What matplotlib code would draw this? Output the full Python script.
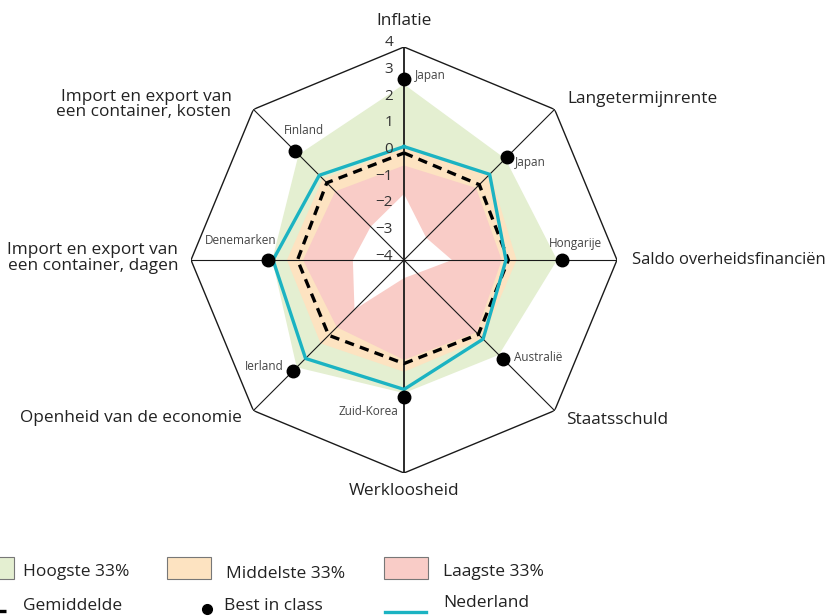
import numpy as np
import matplotlib
matplotlib.use("Agg")
import matplotlib.pyplot as plt
from matplotlib.patches import Rectangle
from matplotlib.lines import Line2D

plt.rcParams["font.family"] = ["Open Sans", "DejaVu Sans"]

# axes, clockwise from the top
categories = [
    "Inflatie",
    "Langetermijnrente",
    "Saldo overheidsfinanciën",
    "Staatsschuld",
    "Werkloosheid",
    "Openheid van de economie",
    "Import en export van\neen container, dagen",
    "Import en export van\neen container, kosten",
]
best_countries = ["Japan", "Japan", "Hongarije", "Australië",
                  "Zuid-Korea", "Ierland", "Denemarken", "Finland"]
best_in_class = [2.79, 1.49, 1.95, 1.24, 1.13, 1.89, 1.10, 1.80]

# outer edges of the bands (score per axis)
hoogste = [2.60, 1.38, 1.75, 1.04, 1.00, 1.70, 0.95, 1.60]
middelste = [0.20, 0.58, 0.23, 0.18, 0.20, 0.43, 0.40, 0.32]
laagste = [-0.45, -0.17, -0.33, -0.15, -0.25, -0.43, -0.21, -0.35]
minimum = [-1.52, -2.82, -2.20, -3.30, -3.32, -1.37, -2.08, -2.23]

gemiddelde = [0.02, 0.00, -0.08, -0.05, -0.11, 0.00, 0.00, 0.10]
nederland = [0.26, 0.55, -0.17, 0.20, 0.86, 1.23, 0.92, 0.50]

ticks = [4, 3, 2, 1, 0, -1, -2, -3, -4]

GREEN = "#e4efd1"
ORANGE = "#fde3c1"
PINK = "#f9ccc7"
CYAN = "#1bb3c2"
W, H = 833, 616


def closed(vals):
    return list(vals) + [vals[0]]


def main():
    fig = plt.figure(figsize=(W / 100, H / 100), dpi=100)
    cx, cy, rad = 404, 260, 213
    ax = fig.add_axes([(cx - rad) / W, (H - cy - rad) / H,
                       2 * rad / W, 2 * rad / H], projection="polar")
    ax.set_theta_zero_location("N")
    ax.set_theta_direction(-1)
    ax.set_ylim(-4, 4)
    ax.grid(False)
    ax.set_xticks([])
    ax.set_yticks([])
    ax.spines["polar"].set_visible(False)
    ax.patch.set_visible(False)

    n = len(categories)
    theta = np.arange(n) * 2 * np.pi / n
    tc = closed(theta)

    # bands
    ax.fill(tc, closed(hoogste), color=GREEN, lw=0, zorder=1)
    ax.fill(tc, closed(middelste), color=ORANGE, lw=0, zorder=2)
    ax.fill(tc, closed(laagste), color=PINK, lw=0, zorder=3)
    ax.fill(tc, closed(minimum), color="white", lw=0, zorder=4)

    # frame and spokes
    ax.plot(tc, [4] * (n + 1), color="#1a1a1a", lw=1.0, zorder=5)
    for i, t in enumerate(theta):
        lw = 1.3 if i in (0, 4) else 0.8
        ax.plot([t, t], [-4, 4], color="#1a1a1a", lw=lw, zorder=5)

    ax.plot(tc, closed(gemiddelde), color="black", lw=2.4,
            dashes=(2.8, 1.9), zorder=6)
    ax.plot(tc, closed(nederland), color=CYAN, lw=2.4, zorder=7)
    ax.plot(theta, best_in_class, "o", color="black", ms=9, zorder=8)

    # radial tick labels on the top spoke
    for v in ticks:
        ax.annotate(str(v).replace("-", "\u2212"), xy=(0, v),
                    xytext=(-11, 4), textcoords="offset pixels",
                    ha="right", va="center", fontsize=11,
                    color="#333333", annotation_clip=False, zorder=9)

    # best in class country labels
    offs = [(11, 4, "left"), (8, -6, "left"), (-14, 16, "left"),
            (11, 1, "left"), (-6, -15, "right"), (-9, 4, "right"),
            (8, 19, "right"), (-11, 20, "left")]
    for t, v, name, (dx, dy, ha) in zip(theta, best_in_class,
                                        best_countries, offs):
        ax.annotate(name, xy=(t, v), xytext=(dx, dy),
                    textcoords="offset pixels", ha=ha, va="center",
                    fontsize=8.5, color="#444444", annotation_clip=False,
                    zorder=9)

    # category labels around the frame
    cat_offs = [(0, 26, "center"), (13, 10, "left"), (15, 0, "left"),
                (11, -9, "left"), (0, -18, "center"), (-12, -7, "right"),
                (-13, 2, "right"), (-22, 5, "right")]
    for t, name, (dx, dy, ha) in zip(theta, categories, cat_offs):
        size = 12.0 if name.startswith("Saldo") else 12.4
        ax.annotate(name, xy=(t, 4), xytext=(dx, dy),
                    textcoords="offset pixels", ha=ha, va="center",
                    fontsize=size, color="#222222", linespacing=0.95,
                    annotation_clip=False)

    # legend, drawn in figure pixels (left side runs off the canvas)
    def fx(x):
        return x / W

    def fy(y):
        return 1 - y / H

    for x0, col in [(-30, GREEN), (167, ORANGE), (384, PINK)]:
        fig.add_artist(Rectangle((fx(x0), fy(579)), 44 / W, 22 / H,
                                 transform=fig.transFigure, facecolor=col,
                                 edgecolor="#777777", lw=0.8))
    leg_txt = [(23, 572, "Hoogste 33%"), (226, 574, "Middelste 33%"),
               (443, 572, "Laagste 33%"), (23, 606, "Gemiddelde"),
               (224, 606, "Best in class"), (443, 603, "Nederland")]
    for x, y, s in leg_txt:
        fig.text(fx(x), fy(y), s, ha="left", va="center", fontsize=12.5,
                 color="#222222")
    fig.add_artist(Line2D([fx(-30), fx(6)], [fy(611), fy(611)],
                          color="black", lw=2.4, dashes=(2.8, 1.9),
                          transform=fig.transFigure))
    fig.add_artist(Line2D([fx(207)], [fy(609)], marker="o", color="black",
                          ms=7, transform=fig.transFigure))
    fig.add_artist(Line2D([fx(385), fx(426)], [fy(612), fy(612)],
                          color=CYAN, lw=2.4, transform=fig.transFigure))

    fig.savefig("out.png", dpi=100)


if __name__ == "__main__":
    main()
